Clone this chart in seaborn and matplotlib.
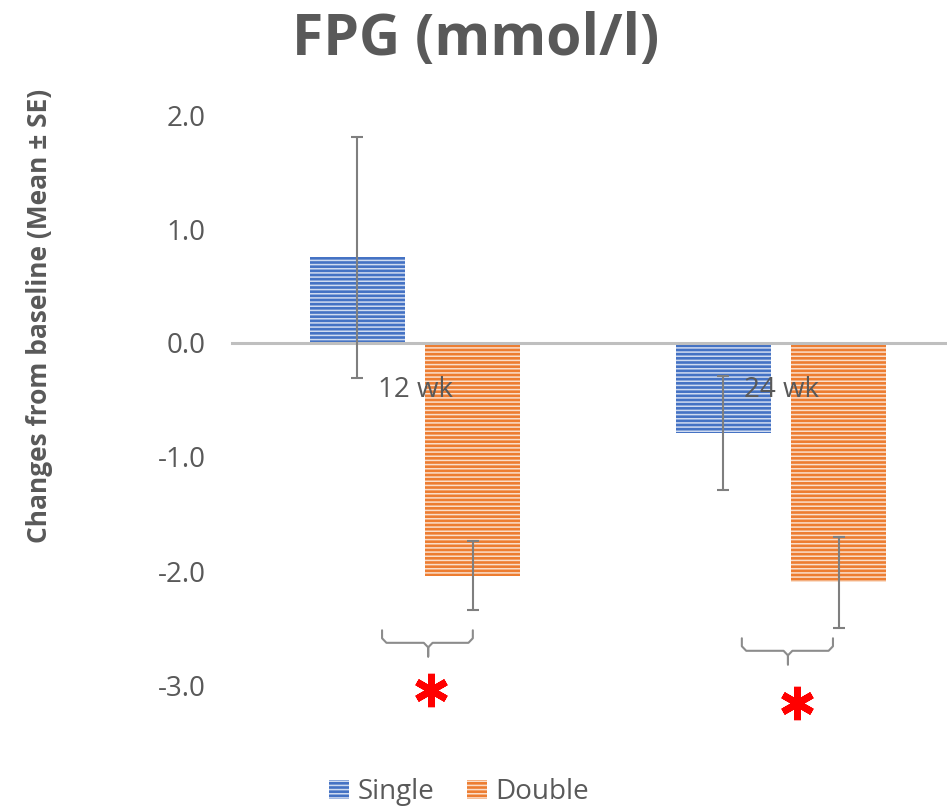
import matplotlib
matplotlib.use("Agg")
import matplotlib.pyplot as plt
import seaborn as sns
import pandas as pd
from matplotlib.lines import Line2D

# ---- data ----
timepoints = ["12 wk", "24 wk"]
groups = ["Single", "Double"]
single_mean = [0.75, -0.79]
double_mean = [-2.04, -2.10]
single_se = [1.06, 0.50]
double_se = [0.30, 0.40]
yticks = [2.0, 1.0, 0.0, -1.0, -2.0, -3.0]

# annotation levels (significance braces / stars), in data units
brace_x = [(-0.090, 0.158, 0.036), (-0.107, 0.142, 0.019)]
brace_y = [(-2.52, -2.63, -2.75), (-2.59, -2.70, -2.82)]
star_dx = [0.044, 0.044]
star_y = [-3.04, -3.16]

df = pd.DataFrame({
    "time": timepoints * 2,
    "group": [groups[0]] * 2 + [groups[1]] * 2,
    "value": single_mean + double_mean,
    "se": single_se + double_se,
})

sns.set_style("white")
plt.rcParams["font.family"] = ["Open Sans", "DejaVu Sans"]
plt.rcParams["hatch.linewidth"] = 1.1

BLUE = "#4472C4"
ORANGE = "#ED7D31"
TXT = "#595959"
GRAY = "#7F7F7F"

fig = plt.figure(figsize=(9.47, 8.08), dpi=100)
ax = fig.add_axes([232 / 947, (808 - 685) / 808, 732 / 947, 570 / 808])

sns.barplot(data=df, x="time", y="value", hue="group", order=timepoints,
            hue_order=groups, palette=[BLUE, ORANGE], width=0.63, gap=0.175,
            errorbar=None, legend=False, ax=ax, linewidth=0, saturation=1)

# hatch + error bars
for p in ax.patches:
    p.set_hatch("----")
    p.set_edgecolor((1, 1, 1, 0.75))
    p.set_linewidth(0)

bars = list(ax.patches)
centers = [b.get_x() + b.get_width() / 2 for b in bars]
heights = [b.get_height() for b in bars]
ses = single_se + double_se
ax.errorbar(centers, heights, yerr=ses, fmt="none", ecolor=GRAY,
            elinewidth=1.5, capsize=4.3, capthick=1.5, zorder=5)

ax.set_xlim(-0.5, 1.5)
ax.set_ylim(-3.0, 2.0)
ax.set_yticks(yticks)
ax.set_yticklabels([f"{v:.1f}" for v in yticks])

for s in ["top", "right", "left"]:
    ax.spines[s].set_visible(False)
ax.spines["bottom"].set_position(("data", 0))
ax.spines["bottom"].set_color("#BFBFBF")
ax.spines["bottom"].set_linewidth(2.2)
ax.spines["bottom"].set_zorder(3)

ax.tick_params(axis="y", length=0, pad=19, labelsize=20, labelcolor=TXT)
ax.tick_params(axis="x", length=0, pad=24, labelsize=20, labelcolor=TXT)
ax.xaxis.set_zorder(6)
ax.set_xlabel("")
ax.set_ylabel("Changes from baseline (Mean ± SE)", fontsize=19,
              fontweight="bold", color=TXT)
ax.yaxis.set_label_coords(-0.245, 0.647)

# significance braces and stars
for i in range(len(timepoints)):
    x0, x1, xc = (i + v for v in brace_x[i])
    yt, ym, ytip = brace_y[i]
    r = 0.012
    ry = 0.04
    xs = [x0, x0, x0 + r, xc - r, xc, xc, xc, xc + r, x1 - r, x1, x1]
    ys = [yt, ym + ry, ym, ym, ym - ry, ytip, ym - ry, ym, ym, ym + ry, yt]
    ax.add_line(Line2D(xs, ys, color="#8C8C8C", lw=1.5, clip_on=False,
                       solid_joinstyle="round"))
    ax.plot([i + star_dx[i]], [star_y[i]], marker=(6, 2, 0), ms=24,
            mew=5, color="#FF0000", clip_on=False, zorder=6)

# title
fig.text(476 / 947, 1 - 55 / 808, "FPG (mmol/l)", ha="center", va="baseline",
         fontsize=41, fontweight="bold", color=TXT)

# legend
handles = [bars[0], bars[2]]
fig.legend(handles, groups, loc="center", bbox_to_anchor=(459 / 947, 1 - 792 / 808),
           ncol=2, frameon=False, fontsize=20, labelcolor=TXT,
           handlelength=0.7, handleheight=0.7, handletextpad=0.3,
           columnspacing=1.2, borderpad=0)

fig.savefig("out.png", dpi=100)
